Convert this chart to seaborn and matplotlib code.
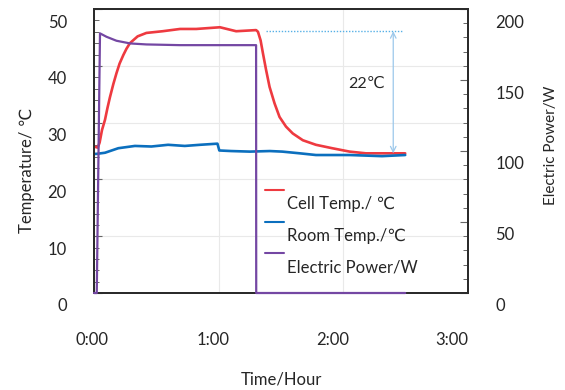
import numpy as np
import matplotlib
matplotlib.use("Agg")
import matplotlib.pyplot as plt
import matplotlib.transforms as mtransforms
from matplotlib.lines import Line2D
from matplotlib.legend_handler import HandlerLine2D
from matplotlib.ticker import MultipleLocator
import seaborn as sns

# time in hours
cell_time = [0.0, 0.03, 0.045, 0.064, 0.088, 0.108, 0.128, 0.155, 0.18, 0.205, 0.235,
             0.26, 0.288, 0.35, 0.42, 0.55, 0.69, 0.82, 1.01, 1.14, 1.30, 1.315,
             1.336, 1.355, 1.38, 1.408, 1.448, 1.488, 1.54, 1.594, 1.675, 1.78, 1.91,
             2.05, 2.18, 2.31, 2.496]
cell_temp = [25.8, 25.6, 26.5, 28.7, 30.5, 32.6, 34.5, 36.8, 38.7, 40.4, 41.9,
             43.0, 44.0, 45.2, 45.8, 46.1, 46.5, 46.5, 46.8, 46.1, 46.3, 46.0,
             44.5, 42.2, 39.3, 36.3, 33.4, 31.0, 29.3, 28.1, 26.9, 26.1, 25.5,
             24.9, 24.6, 24.6, 24.6]

room_time = [0.0, 0.02, 0.088, 0.195, 0.328, 0.46, 0.594, 0.728, 0.85, 0.99, 1.005,
             1.1, 1.25, 1.41, 1.51, 1.65, 1.78, 2.05, 2.31, 2.496]
room_temp = [24.5, 24.5, 24.7, 25.5, 25.9, 25.8, 26.1, 25.9, 26.1, 26.3, 25.1,
             25.0, 24.9, 25.0, 24.9, 24.6, 24.3, 24.3, 24.1, 24.3]

power_time = [0.0, 0.022, 0.048, 0.10, 0.18, 0.29, 0.42, 0.69, 0.95, 1.30, 1.301, 2.496]
power_watt = [0.0, 0.0, 182.9, 180.5, 177.7, 175.8, 175.1, 174.6, 174.6, 174.6, 0.0, 0.0]

x_ticks = [0, 1, 2, 3]
x_tick_labels = ["0:00", "1:00", "2:00", "3:00"]
temp_ticks = [0, 10, 20, 30, 40, 50]
power_ticks = [0, 50, 100, 150, 200]

# temperature gap marker
gap_high = 46.1
gap_low = 24.6

RED = "#EE3A40"
BLUE = "#0B6FBE"
PURPLE = "#7447A3"
TXT = "#262626"

sns.set_style("white")
plt.rcParams["font.family"] = ["Lato", "DejaVu Sans"]
plt.rcParams["text.color"] = TXT
plt.rcParams["axes.labelcolor"] = TXT
plt.rcParams["xtick.color"] = "#666666"
plt.rcParams["ytick.color"] = "#666666"
plt.rcParams["xtick.labelcolor"] = TXT
plt.rcParams["ytick.labelcolor"] = TXT


class RaisedLine(HandlerLine2D):
    # legend key sits above its label, like the original
    def create_artists(self, legend, orig_handle, xdescent, ydescent, width, height, fontsize, trans):
        arts = super().create_artists(legend, orig_handle, xdescent, ydescent, width, height, fontsize, trans)
        for a in arts:
            a.set_ydata(np.asarray(a.get_ydata(), dtype=float) + 0.8 * fontsize)
        return arts


fig = plt.figure(figsize=(5.65, 3.9), dpi=100)
ax = fig.add_axes([0.1664, 0.2487, 0.662, 0.728])
ax2 = ax.twinx()

sns.lineplot(x=cell_time, y=cell_temp, ax=ax, color=RED, lw=1.9, sort=False, estimator=None)
sns.lineplot(x=room_time, y=room_temp, ax=ax, color=BLUE, lw=1.9, sort=False, estimator=None)
sns.lineplot(x=power_time, y=power_watt, ax=ax2, color=PURPLE, lw=1.6, sort=False, estimator=None)
cell_line, room_line = ax.lines[0], ax.lines[1]
power_line = ax2.lines[0]
power_line.set_clip_on(False)
power_line.set_zorder(3)

ax.set_xlim(0, 3)
ax.set_ylim(0, 50)
ax2.set_ylim(0, 200)
ax.set_xticks(x_ticks, x_tick_labels)
ax.set_yticks(temp_ticks)
ax2.set_yticks(power_ticks)
ax.xaxis.set_minor_locator(MultipleLocator(0.2))
ax.yaxis.set_minor_locator(MultipleLocator(2))
ax2.yaxis.set_minor_locator(MultipleLocator(10))

ax.grid(True, which="major", color="#E9E9E9", lw=0.8)
ax.set_axisbelow(True)

for a in (ax, ax2):
    a.tick_params(which="both", direction="in", labelsize=12)
    a.tick_params(which="major", length=5.5, width=0.8)
    a.tick_params(which="minor", length=3.5, width=0.7)
    for s in a.spines.values():
        s.set_color("#2b2b2b")
        s.set_linewidth(1.4)
ax.tick_params(axis="y", which="major", pad=19.5)
ax2.tick_params(axis="y", which="major", pad=19.5)
ax.tick_params(axis="x", which="major", pad=28)

ax.set_xlabel("Time/Hour", fontsize=12)
ax.xaxis.set_label_coords(0.5, -0.275)
ax.set_ylabel("Temperature/ ℃", fontsize=12)
ax.yaxis.set_label_coords(-0.158, 0.433)
ax2.set_ylabel("Electric Power/W", fontsize=11)
ax2.yaxis.set_label_coords(1.203, 0.521)

# 22 degree gap marker
ax.plot([1.376, 2.47], [gap_high, gap_high], color="#56B0E6", lw=1.0, ls=(0, (1, 1.2)))
ax.annotate("", xy=(2.40, gap_low), xytext=(2.40, gap_high),
            arrowprops=dict(arrowstyle="<->", color="#9CC8EB", lw=0.9, shrinkA=0, shrinkB=0))
ax.text(2.184, 36.8, "22℃", fontsize=11.5, ha="center", va="center")

leg = ax2.legend(handles=[cell_line, room_line, power_line],
                 labels=["Cell Temp./ ℃", "Room Temp./℃", "Electric Power/W"],
                 handler_map={Line2D: RaisedLine()}, loc="upper left",
                 bbox_to_anchor=(0.457, 0.342), frameon=False, fontsize=12,
                 handlelength=1.15, handletextpad=0.15, labelspacing=0.95,
                 borderpad=0, borderaxespad=0)
for ln in leg.get_lines():
    ln.set_linewidth(1.5)


def shift(labels, dx, dy):
    for lab in labels:
        lab.set_transform(lab.get_transform() +
                          mtransforms.ScaledTranslation(dx / 72, dy / 72, fig.dpi_scale_trans))


# labels sit a bit low / narrow compared to the ticks in the original
shift(ax.get_yticklabels(), 0, -8.6)
shift(ax2.get_yticklabels(), 0, -8.6)
for lab, dx in zip(ax.get_xticklabels(), [-1.4, -4.3, -7.9, -11.5]):
    shift([lab], dx, 0)

fig.savefig("out.png", dpi=100)
